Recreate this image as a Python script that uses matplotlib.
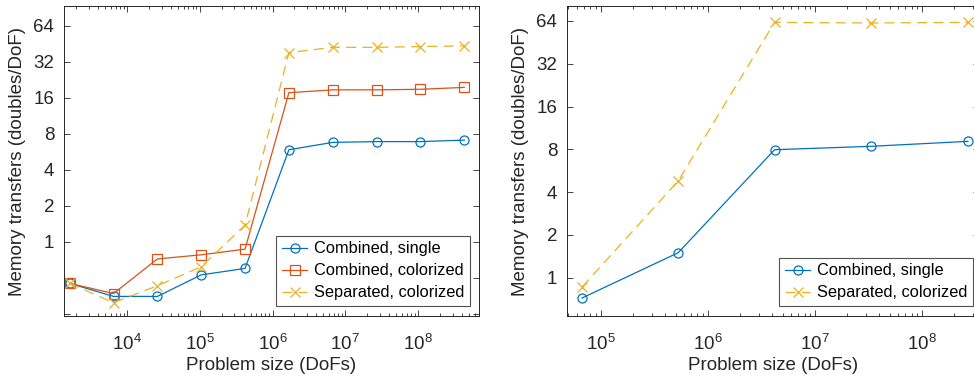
import numpy as np
import matplotlib.pyplot as plt
from matplotlib.ticker import LogLocator, NullFormatter, FixedLocator

plt.rcParams['font.family'] = ['Liberation Sans', 'DejaVu Sans']
plt.rcParams['mathtext.fontset'] = 'custom'
plt.rcParams['mathtext.rm'] = 'Liberation Sans'

BLUE = "#0072BD"
RED = "#D95319"
YELLOW = "#EDB120"
DARK = "#262626"

# left panel
dofs_left = [1640, 6560, 26240, 104960, 419840, 1.68e6, 6.72e6, 2.69e7, 1.07e8, 4.3e8]
single_left = [0.45, 0.35, 0.35, 0.53, 0.60, 5.9, 6.8, 6.9, 6.9, 7.1]
colorized_left = [0.45, 0.37, 0.72, 0.78, 0.87, 17.7, 18.7, 18.7, 18.9, 19.6]
separated_left = [0.45, 0.31, 0.43, 0.62, 1.38, 38.3, 42.4, 42.4, 43.0, 43.6]

# right panel
dofs_right = [6.7e4, 5.3e5, 4.2e6, 3.35e7, 2.68e8]
single_right = [0.72, 1.50, 7.95, 8.4, 9.1]
separated_right = [0.86, 4.8, 62.5, 61.9, 62.5]

ytick_vals = [0.25, 0.5, 1, 2, 4, 8, 16, 32, 64]
ytick_labels = ["", "", "1", "2", "4", "8", "16", "32", "64"]


def style_axis(ax, xlim, ylim, xticks):
    ax.set_xscale("log")
    ax.set_yscale("log", base=2)
    ax.set_xlim(xlim)
    ax.set_ylim(ylim)
    ax.xaxis.set_major_locator(FixedLocator(xticks))
    ax.set_xticklabels([r"$\mathregular{10^{%d}}$" % int(round(np.log10(t))) for t in xticks])
    ax.xaxis.set_minor_locator(LogLocator(base=10, subs=np.arange(2, 10), numticks=20))
    ax.xaxis.set_minor_formatter(NullFormatter())
    ax.yaxis.set_major_locator(FixedLocator(ytick_vals))
    ax.set_yticklabels(ytick_labels)
    ax.yaxis.set_minor_locator(FixedLocator([]))
    ax.tick_params(which="both", direction="in", top=True, right=True, colors=DARK,
                   labelsize=13.5, width=0.6)
    ax.tick_params(which="major", length=4)
    ax.tick_params(which="minor", length=2)
    ax.tick_params(axis="x", pad=13)
    ax.tick_params(axis="y", pad=7)
    for s in ax.spines.values():
        s.set_color(DARK)
        s.set_linewidth(0.7)
    ax.set_xlabel("Problem size (DoFs)", fontsize=13.5, color=DARK, labelpad=2)
    ax.set_ylabel("Memory transfers (doubles/DoF)", fontsize=13.5, color=DARK, labelpad=5)


fig = plt.figure(figsize=(9.74, 3.78), dpi=100)
ax1 = fig.add_axes([64 / 974, 62 / 378, 415 / 974, 310 / 378])
ax2 = fig.add_axes([567 / 974, 62 / 378, 412 / 974, 310 / 378])

mk = dict(markersize=6.5, markerfacecolor="none", linewidth=0.9, markeredgewidth=0.9)
dash = (8, 5)

ax1.plot(dofs_left, single_left, "-o", color=BLUE, label="Combined, single", **mk)
ax1.plot(dofs_left, colorized_left, "-s", color=RED, label="Combined, colorized", **mk)
ax1.plot(dofs_left, separated_left, "--x", color=YELLOW, dashes=dash,
         label="Separated, colorized", **mk)
style_axis(ax1, (1370, 6.85e8), (0.24, 94), [1e4, 1e5, 1e6, 1e7, 1e8])

ax2.plot(dofs_right, single_right, "-o", color=BLUE, label="Combined, single", **mk)
ax2.plot(dofs_right, separated_right, "--x", color=YELLOW, dashes=dash,
         label="Separated, colorized", **mk)
style_axis(ax2, (4.85e4, 3.4e8), (0.538, 81.5), [1e5, 1e6, 1e7, 1e8])

leg_kw = dict(fontsize=11.8, frameon=True, fancybox=False, handlelength=1.55,
              handletextpad=0.4, borderpad=0.35, labelspacing=0.42, borderaxespad=0)
leg1 = ax1.legend(loc="lower right", bbox_to_anchor=(470 / 974, 72 / 378),
                  bbox_transform=fig.transFigure, **leg_kw)
leg2 = ax2.legend(loc="lower right", bbox_to_anchor=(973 / 974, 72 / 378),
                  bbox_transform=fig.transFigure, **leg_kw)
for leg in (leg1, leg2):
    leg.get_frame().set_edgecolor(DARK)
    leg.get_frame().set_linewidth(0.8)
    for t in leg.get_texts():
        t.set_color("black")

fig.savefig("out.png", dpi=100)
